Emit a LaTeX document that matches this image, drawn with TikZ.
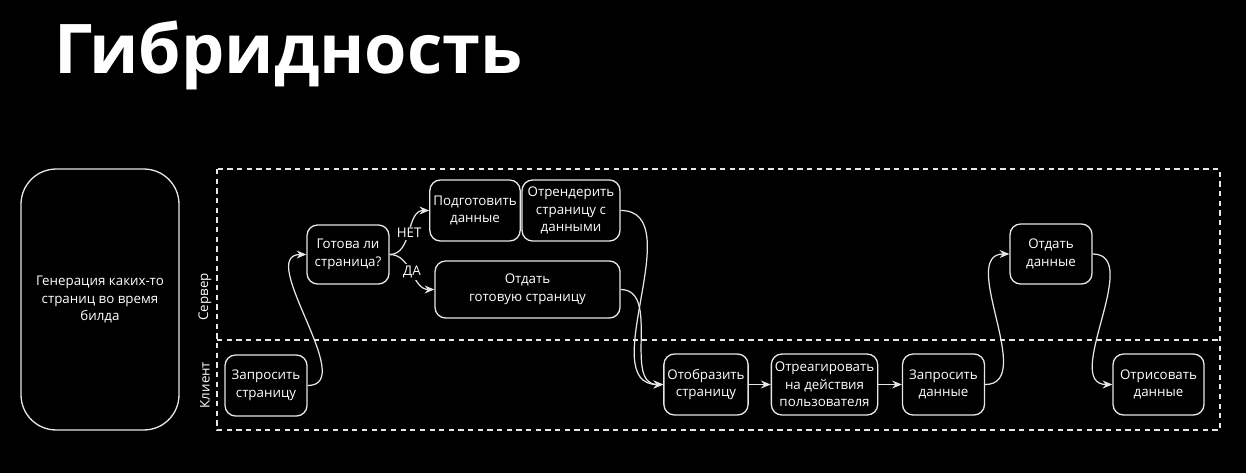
\documentclass[tikz,border=0pt]{standalone}
\usepackage{fontspec}
\setmainfont{Open Sans}
\usetikzlibrary{positioning, arrows.meta}
\definecolor{lineclr}{HTML}{E6E6E6}
\tikzset{
  stepbox/.style={draw=lineclr, line width=0.75pt, rounded corners=6pt, align=center, text=white,
    font=\fontsize{7.6}{10}\selectfont, minimum width=1.64cm, minimum height=1.22cm, inner sep=2pt},
  flow/.style={draw=lineclr, line width=0.7pt, -{Stealth[length=5.5pt,width=4.5pt]}},
  lane/.style={draw=lineclr, line width=0.75pt, dash pattern=on 3pt off 2.5pt},
  lanelabel/.style={text=white, rotate=90, font=\fontsize{7.6}{10}\selectfont},
  choice/.style={text=white, fill=black, font=\fontsize{7.6}{10}\selectfont, inner sep=1pt}
}

\begin{document}
\begin{tikzpicture}[x=0.02cm, y=-0.02cm]
  \useasboundingbox[fill=black] (0,0) rectangle (1246,473);

  % Title
  \node[anchor=base west, text=white, font=\fontsize{39}{46}\selectfont\bfseries, inner sep=0pt] (title) at (54,73) {Гибридность};

  % Build-time box
  \node[stepbox, rounded corners=20pt, minimum width=3.16cm, minimum height=5.22cm] (build) at (100,299.5) {Генерация каких-то\\страниц во время\\билда};

  % Lanes
  \draw[lane] (217,169) rectangle (1220,430);
  \draw[lane] (217,340) -- (1220,340);
  \node[lanelabel] (server) at (205,297) {Сервер};
  \node[lanelabel] (client) at (205,385) {Клиент};

  % Page request
  \node[stepbox] (reqpage) at (266,385.5) {Запросить\\страницу};
  \node[stepbox, minimum height=1.18cm] (ready) at (348,254.5) {Готова ли\\страница?};
  \node[stepbox, minimum width=1.8cm] (prepare) at (475,210.5) {Подготовить\\данные};
  \node[stepbox, minimum width=1.96cm] (render) at (571,210.5) {Отрендерить\\страницу с\\данными};
  \node[stepbox, minimum width=3.7cm, minimum height=1.14cm] (giveready) at (527.5,289.5) {Отдать\\готовую страницу};

  % Client side
  \node[stepbox] (showpage) at (706,384.5) {Отобразить\\страницу};
  \node[stepbox, minimum width=2.1cm] (react) at (824.5,384.5) {Отреагировать\\на действия\\пользователя};
  \node[stepbox] (reqdata) at (943.5,384.5) {Запросить\\данные};
  \node[stepbox, minimum height=1.2cm] (givedata) at (1051,254) {Отдать\\данные};
  \node[stepbox, minimum width=1.82cm] (drawdata) at (1158.5,384.5) {Отрисовать\\данные};

  % Connectors
  \draw[flow] (reqpage.east) to[out=0, in=180] (ready.west);
  \draw[flow] (ready.east) to[out=0, in=180] node[choice, pos=0.49] (no) {НЕТ} (prepare.west);
  \draw[flow] (ready.east) to[out=0, in=180] node[choice, pos=0.5] (yes) {ДА} (giveready.west);
  \draw[flow] (render.east) to[out=0, in=180] (showpage.west);
  \draw[flow] (giveready.east) to[out=0, in=180] (showpage.west);
  \draw[flow] (showpage) -- (react);
  \draw[flow] (react) -- (reqdata);
  \draw[flow] (reqdata.east) to[out=0, in=180] (givedata.west);
  \draw[flow] (givedata.east) to[out=0, in=180] (drawdata.west);
\end{tikzpicture}
\end{document}
